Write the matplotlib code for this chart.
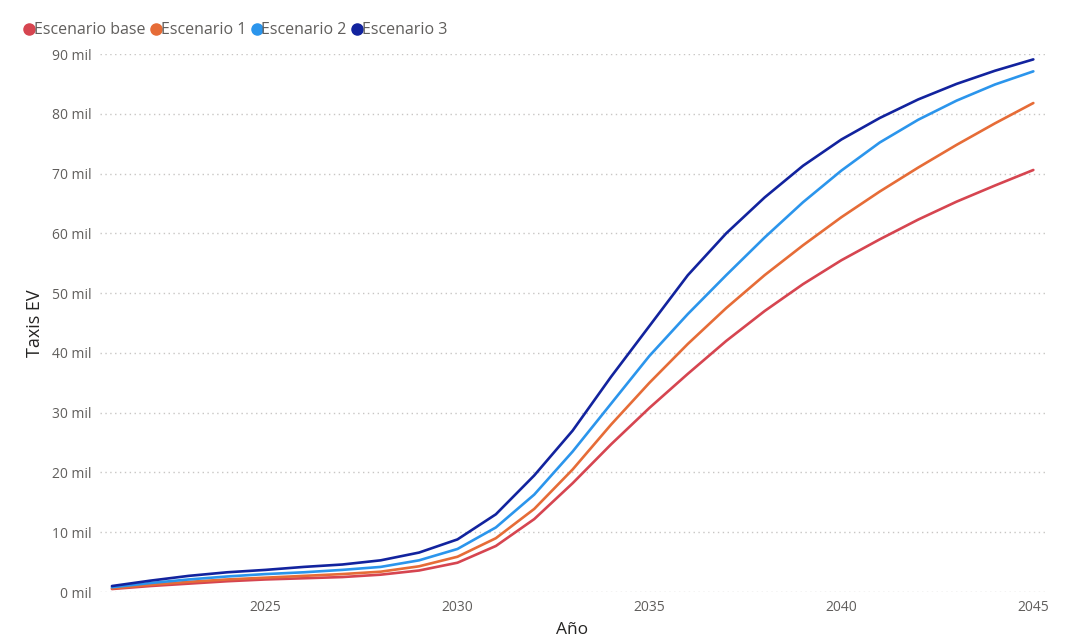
"""
Taxis EV projection per scenario, 2021-2045.
"""
import matplotlib
matplotlib.use("Agg")
from matplotlib import pyplot as plt
from matplotlib.lines import Line2D
from matplotlib.ticker import FuncFormatter

years = list(range(2021, 2046))

# values in thousands ("mil")
escenario_base = [0.5, 1.0, 1.4, 1.8, 2.1, 2.3, 2.5, 2.9, 3.6, 4.9, 7.7, 12.2, 18.2,
                  24.7, 30.8, 36.5, 42.0, 47.0, 51.5, 55.5, 59.0, 62.3, 65.3, 68.0, 70.6]
escenario_1 = [0.6, 1.2, 1.7, 2.1, 2.4, 2.7, 3.0, 3.4, 4.3, 5.9, 9.0, 13.9, 20.5,
               28.0, 35.0, 41.5, 47.5, 53.0, 58.0, 62.7, 67.0, 71.0, 74.8, 78.4, 81.8]
escenario_2 = [0.8, 1.5, 2.1, 2.6, 3.0, 3.3, 3.7, 4.2, 5.3, 7.2, 10.8, 16.3, 23.5,
               31.5, 39.5, 46.5, 53.0, 59.3, 65.2, 70.5, 75.2, 79.0, 82.2, 84.9, 87.1]
escenario_3 = [1.0, 1.9, 2.7, 3.3, 3.7, 4.2, 4.6, 5.3, 6.6, 8.8, 13.0, 19.5, 27.0,
               36.0, 44.5, 53.0, 60.0, 66.0, 71.3, 75.7, 79.3, 82.4, 85.0, 87.2, 89.1]

series_names = ["Escenario base", "Escenario 1", "Escenario 2", "Escenario 3"]
colors = ["#D64550", "#E66C37", "#2B95EC", "#12239E"]
x_ticks = [2025, 2030, 2035, 2040, 2045]
y_ticks = list(range(0, 100, 10))

plt.rcParams["font.family"] = ["Open Sans", "DejaVu Sans"]

fig = plt.figure(figsize=(10.7, 6.43), dpi=100)
ax = fig.add_axes([0.0935, 0.0793, 0.883, 0.8367])

for name, vals, c in zip(series_names,
                         (escenario_base, escenario_1, escenario_2, escenario_3),
                         colors):
    ax.plot(years, vals, color=c, lw=1.9, label=name, clip_on=False,
            solid_joinstyle="round", solid_capstyle="round")

ax.set_xlim(2020.69, 2045.3)
ax.set_ylim(0, 90)
ax.set_xticks(x_ticks)
ax.set_yticks(y_ticks)
ax.yaxis.set_major_formatter(FuncFormatter(lambda v, _: f"{int(v)} mil"))

ax.grid(axis="y", color="#C8C6C4", linestyle=(0, (1, 2.5)), linewidth=1.0)
ax.set_axisbelow(True)
for s in ax.spines.values():
    s.set_visible(False)
ax.tick_params(length=0, labelsize=10, colors="#605E5C")
ax.tick_params(axis="x", pad=6)
ax.tick_params(axis="y", pad=6)

ax.set_xlabel("Año", fontsize=12.5, color="#252423", labelpad=5)
ax.set_ylabel("Taxis EV", fontsize=13, color="#252423", labelpad=6)

handles = [Line2D([], [], marker="o", linestyle="", color=c, markersize=8)
           for c in colors]
fig.legend(handles, series_names, loc="upper left", bbox_to_anchor=(0.014, 0.975),
           ncol=4, frameon=False, fontsize=11.5, handletextpad=-0.2,
           columnspacing=0.15, handlelength=1.0, borderaxespad=0,
           labelcolor="#605E5C")

fig.savefig("out.png", dpi=100)
plt.close(fig)
